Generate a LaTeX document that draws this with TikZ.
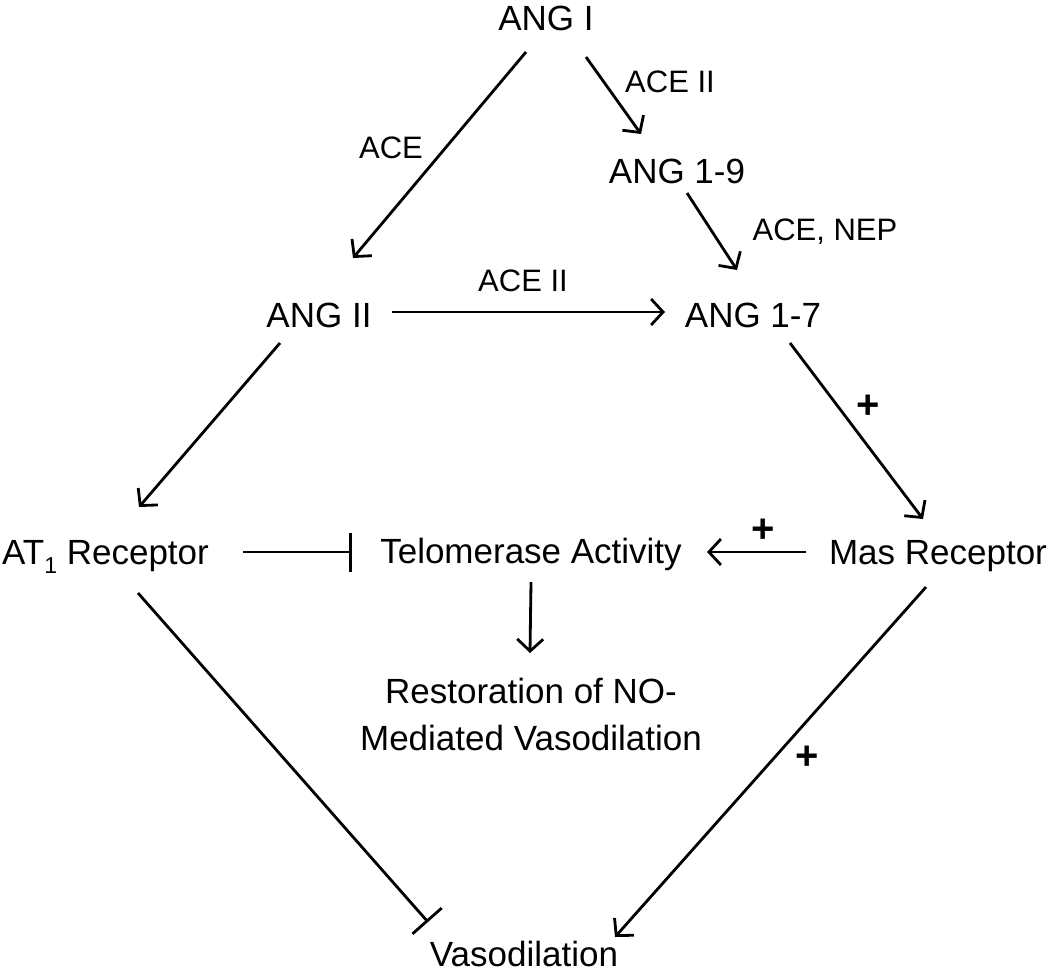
\documentclass[tikz,border=0pt]{standalone}
\usepackage{fontspec}
\setmainfont{Liberation Sans}
\usetikzlibrary{arrows.meta}
\tikzset{
  big/.style={inner sep=0pt, anchor=base, font=\fontsize{35}{42}\selectfont},
  small/.style={inner sep=0pt, anchor=base, font=\fontsize{31}{37}\selectfont},
  plus/.style={inner sep=0pt, anchor=center, font=\fontsize{40}{46}\selectfont\bfseries},
  conn/.style={line width=2.8pt},
  act/.style={conn, -{Straight Barb[length=12pt,width=26pt]}},
  inh/.style={conn, -{Bar[width=39pt]}}
}
\begin{document}
\begin{tikzpicture}[x=1pt,y=-1pt]
\useasboundingbox (0,0) rectangle (1050,972);
% nodes
\node[big] (angI) at (546,30) {ANG I};
\node[small] (aceIIa) at (670,92) {ACE II};
\node[small] (ace) at (391,158) {ACE};
\node[big] (ang19) at (677,183) {ANG 1-9};
\node[small] (acenep) at (825,240) {ACE, NEP};
\node[small] (aceIIb) at (523,291) {ACE II};
\node[big] (angII) at (319,327) {ANG II};
\node[big] (ang17) at (753,327) {ANG 1-7};
\node[big, anchor=base west] (at1) at (2,564) {AT\raisebox{-0.28em}{\fontsize{23}{23}\selectfont 1} Receptor};
\node[big] (tel) at (531,563) {Telomerase Activity};
\node[big] (mas) at (938,564) {Mas Receptor};
\node[big] (rest1) at (531,703) {Restoration of NO-};
\node[big] (rest2) at (531,750) {Mediated Vasodilation};
\node[big] (vaso) at (524,966) {Vasodilation};
\node[plus] (p1) at (868,407) {+};
\node[plus] (p2) at (763,531) {+};
\node[plus] (p3) at (807,758) {+};
% connectors
\draw[act] ([shift={(-20,22)}]angI.base) -- ([shift={(34,-69)}]angII.base);
\draw[act] ([shift={(40,27)}]angI.base) -- ([shift={(-36,-49)}]ang19.base);
\draw[act] ([shift={(10,10)}]ang19.base) -- ([shift={(-16,-57)}]ang17.base);
\draw[act] ([shift={(73,-15)}]angII.base) -- ([shift={(-88,-15)}]ang17.base);
\draw[act] ([shift={(-39,16)}]angII.base) -- ([shift={(137,-57)}]at1.base west);
\draw[act] ([shift={(37,16)}]ang17.base) -- ([shift={(-15,-45)}]mas.base);
\draw[inh] ([shift={(241,-12)}]at1.base west) -- ([shift={(-179,-11)}]tel.base);
\draw[act] ([shift={(-132,-12)}]mas.base) -- ([shift={(176,-11)}]tel.base);
\draw[act] ([shift={(0,19)}]tel.base) -- ([shift={(-1,-50)}]rest1.base);
\draw[inh] ([shift={(136,29)}]at1.base west) -- ([shift={(-96,-44)}]vaso.base);
\draw[act] ([shift={(-12,23)}]mas.base) -- ([shift={(91,-29)}]vaso.base);
\end{tikzpicture}
\end{document}
